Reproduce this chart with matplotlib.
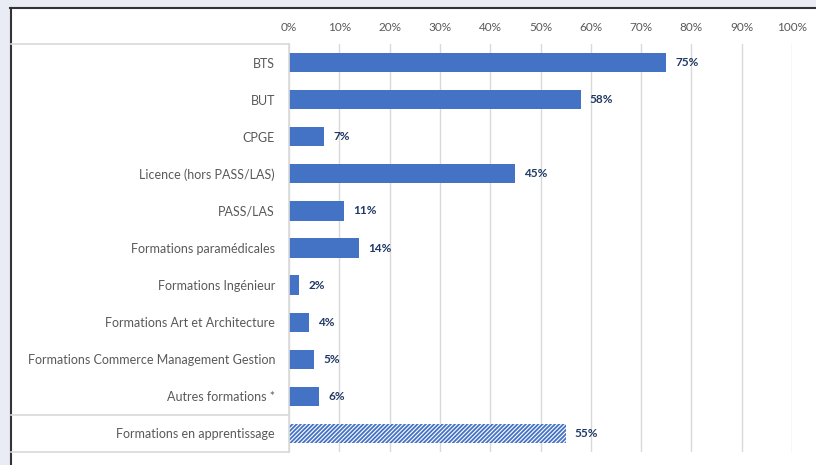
import numpy as np
import matplotlib.pyplot as plt
from matplotlib.patches import Rectangle
from matplotlib.transforms import blended_transform_factory

categories = ["BTS", "BUT", "CPGE", "Licence (hors PASS/LAS)", "PASS/LAS",
              "Formations paramédicales", "Formations Ingénieur",
              "Formations Art et Architecture",
              "Formations Commerce Management Gestion",
              "Autres formations *", "Formations en apprentissage"]
values = [75, 58, 7, 45, 11, 14, 2, 4, 5, 6, 55]
xticks = [0, 10, 20, 30, 40, 50, 60, 70, 80, 90, 100]

blue = "#4472C4"
plt.rcParams["font.family"] = ["Lato", "DejaVu Sans"]
plt.rcParams["hatch.linewidth"] = 1.3

W, H = 816, 465
fig = plt.figure(figsize=(W / 100, H / 100), dpi=100)
fig.patch.set_facecolor("#E9ECF5")

# white panel with dark left/top border
fig.patches.append(Rectangle((10 / W, 0), 1, 1 - 8 / H, transform=fig.transFigure,
                             facecolor="white", edgecolor="none", zorder=-5))
fig.lines.append(plt.Line2D([10.5 / W, 10.5 / W], [0, 1 - 8 / H], transform=fig.transFigure,
                            color="#333333", lw=1.5, zorder=-4))
fig.lines.append(plt.Line2D([10 / W, 1], [1 - 8.5 / H, 1 - 8.5 / H], transform=fig.transFigure,
                            color="#333333", lw=1.5, zorder=-4))

ax = fig.add_axes([289 / W, 1 - 452 / H, (792 - 289) / W, (452 - 44) / H])
ax.set_facecolor("none")
ax.set_zorder(2)

y = np.arange(len(categories))
n_main = len(categories) - 1
ax.barh(y[:n_main], values[:n_main], height=0.52, color=blue, zorder=3)
ax.barh(y[n_main:], values[n_main:], height=0.52, facecolor="white",
        edgecolor=blue, hatch="////////", linewidth=0, zorder=3)

for yi, v in zip(y, values):
    ax.text(v + 1.8, yi, f"{v}%", va="center", ha="left", fontsize=8.5,
            fontweight="bold", color="#1F3864")

ax.set_xlim(0, 100)
ax.set_ylim(len(categories) - 0.5, -0.5)
ax.set_xticks(xticks)
ax.set_xticklabels([f"{t}%" for t in xticks])
ax.xaxis.tick_top()
ax.tick_params(axis="x", length=0, pad=8, labelsize=8.5, labelcolor="#595959")
ax.set_yticks(y)
ax.set_yticklabels(categories)
ax.tick_params(axis="y", length=0, pad=10, labelsize=9, labelcolor="#595959")
ax.grid(axis="x", color="#D9D9D9", lw=1, zorder=0)
for s in ax.spines.values():
    s.set_visible(False)

# label box on the left
tr = blended_transform_factory(fig.transFigure, ax.transData)
x0, x1 = 11 / W, 289 / W
box_c = "#D9D9D9"
for yy in [-0.5, n_main - 0.5, len(categories) - 0.5]:
    fig.lines.append(plt.Line2D([x0, x1], [yy, yy], transform=tr, color=box_c, lw=1.2))
fig.lines.append(plt.Line2D([x1, x1], [-0.5, len(categories) - 0.5], transform=tr,
                            color=box_c, lw=1.2))

fig.savefig("out.png", dpi=100, facecolor=fig.get_facecolor())
